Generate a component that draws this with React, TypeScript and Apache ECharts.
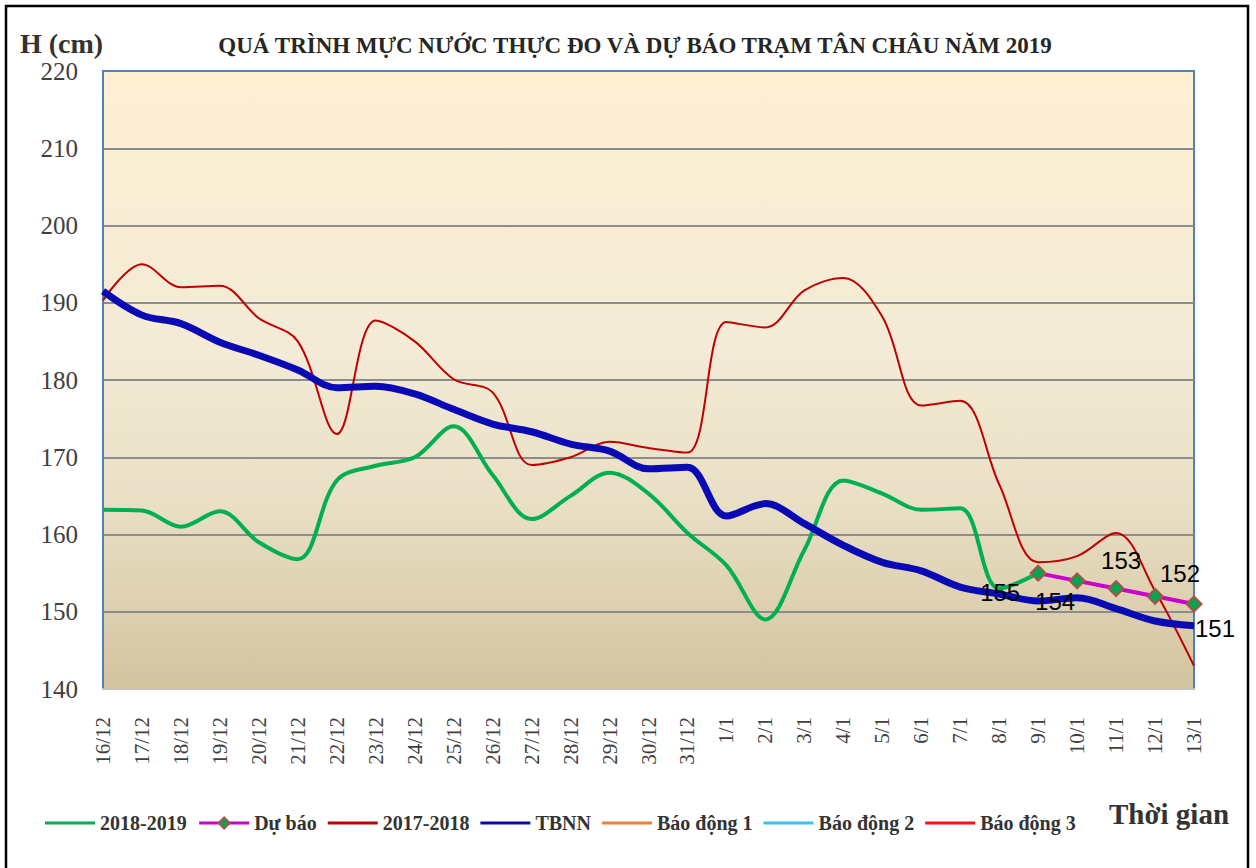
import React, { useEffect, useRef } from "react";
import * as echarts from "echarts";

const categories = [
  "16/12", "17/12", "18/12", "19/12", "20/12", "21/12", "22/12", "23/12",
  "24/12", "25/12", "26/12", "27/12", "28/12", "29/12", "30/12", "31/12",
  "1/1", "2/1", "3/1", "4/1", "5/1", "6/1", "7/1", "8/1", "9/1", "10/1",
  "11/1", "12/1", "13/1",
];

const season1819 = [
  163.2, 163.1, 161, 163, 159, 156.8, 167, 168.9, 170, 174, 167.7, 162, 165,
  168, 165.3, 160.2, 156, 149, 158, 167, 165.3, 163.2, 163.4, 153, 155,
];

const forecastStartIndex = 24;
const forecast = [155, 154, 153, 152, 151];
const forecastLabelOffsets = [
  [-38, 19],
  [-22, 21],
  [5, -28],
  [25, -23],
  [21, 24],
];

const season1718 = [
  190.3, 195, 192, 192.2, 188, 185, 173, 187.7, 185, 180.1, 178.4, 169, 170,
  172, 171.2, 170.6, 187.5, 186.8, 191.6, 193.2, 188.2, 176.7, 177.3, 166.5,
  156.4, 157.2, 160.2, 152.7, 143,
];

const tbnn = [
  191.5, 188.4, 187.3, 184.9, 183.2, 181.3, 179, 179.2, 178.2, 176.2, 174.3,
  173.3, 171.7, 170.8, 168.5, 168.7, 162.4, 164, 161.4, 158.6, 156.4, 155.3,
  153.2, 152.3, 151.4, 151.8, 150.4, 148.8, 148.2,
];

const yMin = 140;
const yMax = 220;
const yStep = 10;

const SERIF = "'Liberation Serif', 'Times New Roman', serif";
const SANS = "'Liberation Sans', Arial, sans-serif";
const LINE_ICON = "path://M0,0 L50,0 L50,3 L0,3 Z";

export default function App() {
  const ref = useRef<HTMLDivElement>(null);

  useEffect(() => {
    document.body.style.margin = "0";
    if (!ref.current) return;
    const chart = echarts.init(ref.current, null, { renderer: "svg" });

    const forecastData = categories.map((_, i) => {
      if (i < forecastStartIndex) return "-";
      const k = i - forecastStartIndex;
      return {
        value: forecast[k],
        label: { offset: forecastLabelOffsets[k] },
      };
    });

    const option: any = {
      animation: false,
      backgroundColor: "#ffffff",
      title: {
        text: "QUÁ TRÌNH MỰC NƯỚC THỰC ĐO VÀ DỰ BÁO TRẠM TÂN CHÂU NĂM 2019",
        left: 630,
        top: 29,
        textAlign: "center",
        textStyle: {
          fontFamily: SERIF,
          fontWeight: "bold",
          fontSize: 23,
          color: "#262626",
        },
      },
      grid: {
        left: 103,
        right: 62,
        top: 71,
        bottom: 179,
        show: true,
        borderColor: "#4F81BD",
        borderWidth: 2,
        backgroundColor: new echarts.graphic.LinearGradient(0, 0, 0, 1, [
          { offset: 0, color: "#FEEFD2" },
          { offset: 0.45, color: "#F3EBD6" },
          { offset: 0.7, color: "#E9DFC5" },
          { offset: 1, color: "#D3C49F" },
        ]),
      },
      legend: {
        left: 40,
        top: 808,
        itemWidth: 50,
        itemHeight: 14,
        itemGap: 11,
        lineStyle: { width: 3 },
        textStyle: {
          fontFamily: SERIF,
          fontWeight: "bold",
          fontSize: 20,
          color: "#333333",
        },
        data: [
          { name: "2018-2019", icon: LINE_ICON },
          { name: "Dự báo" },
          { name: "2017-2018", icon: LINE_ICON },
          { name: "TBNN", icon: LINE_ICON },
          { name: "Báo động 1", icon: LINE_ICON },
          { name: "Báo động 2", icon: LINE_ICON },
          { name: "Báo động 3", icon: LINE_ICON },
        ],
      },
      xAxis: {
        type: "category",
        data: categories,
        boundaryGap: false,
        axisLine: { show: true, lineStyle: { color: "#C9C3B5", width: 2 } },
        axisTick: { show: false },
        axisLabel: {
          rotate: 90,
          margin: 28,
          interval: 0,
          fontFamily: SERIF,
          fontSize: 21,
          color: "#404040",
        },
        splitLine: { show: false },
      },
      yAxis: {
        type: "value",
        min: yMin,
        max: yMax,
        interval: yStep,
        axisLine: { show: true, lineStyle: { color: "#4F81BD", width: 2 } },
        axisTick: { show: false },
        axisLabel: {
          margin: 25,
          fontFamily: SERIF,
          fontSize: 25,
          color: "#404040",
        },
        splitLine: {
          show: true,
          showMinLine: false,
          showMaxLine: false,
          lineStyle: { color: "#8C8C8C", width: 2 },
        },
      },
      series: [
        {
          name: "2018-2019",
          type: "line",
          data: season1819,
          smooth: 0.35,
          symbol: "none",
          color: "#00B050",
          lineStyle: { color: "#00B050", width: 4 },
          z: 3,
        },
        {
          name: "2017-2018",
          type: "line",
          data: season1718,
          smooth: 0.35,
          symbol: "none",
          color: "#C00000",
          lineStyle: { color: "#C00000", width: 2 },
          z: 4,
        },
        {
          name: "TBNN",
          type: "line",
          data: tbnn,
          smooth: 0.35,
          symbol: "none",
          color: "#0A0AB4",
          lineStyle: { color: "#0A0AB4", width: 7 },
          z: 5,
        },
        {
          name: "Dự báo",
          type: "line",
          data: forecastData,
          smooth: false,
          symbol: "diamond",
          symbolSize: 15,
          showSymbol: true,
          color: "#00A651",
          itemStyle: {
            color: "#00A651",
            borderColor: "#B0504A",
            borderWidth: 2,
          },
          lineStyle: { color: "#CC00CC", width: 4 },
          label: {
            show: true,
            position: "inside",
            fontFamily: SANS,
            fontSize: 24,
            color: "#000000",
          },
          z: 10,
        },
        {
          name: "Báo động 1",
          type: "line",
          data: [],
          symbol: "none",
          color: "#F08030",
          lineStyle: { color: "#F08030", width: 3 },
        },
        {
          name: "Báo động 2",
          type: "line",
          data: [],
          symbol: "none",
          color: "#33C4F4",
          lineStyle: { color: "#33C4F4", width: 3 },
        },
        {
          name: "Báo động 3",
          type: "line",
          data: [],
          symbol: "none",
          color: "#FF1010",
          lineStyle: { color: "#FF1010", width: 3 },
        },
      ],
      graphic: [
        {
          type: "rect",
          shape: { x: 6, y: 6, width: 1242, height: 900 },
          style: { fill: "none", stroke: "#000000", lineWidth: 2.5 },
          silent: true,
          z: 100,
        },
        {
          type: "text",
          x: 20,
          y: 43,
          style: {
            text: "H (cm)",
            fontFamily: SERIF,
            fontWeight: "bold",
            fontSize: 28,
            fill: "#333333",
            verticalAlign: "middle",
            align: "left",
          },
        },
        {
          type: "text",
          x: 1109,
          y: 814,
          style: {
            text: "Thời gian",
            fontFamily: SERIF,
            fontWeight: "bold",
            fontSize: 29,
            fill: "#333333",
            verticalAlign: "middle",
            align: "left",
          },
        },
      ],
    };

    chart.setOption(option);
    return () => chart.dispose();
  }, []);

  return <div ref={ref} style={{ width: 1256, height: 868 }} />;
}
